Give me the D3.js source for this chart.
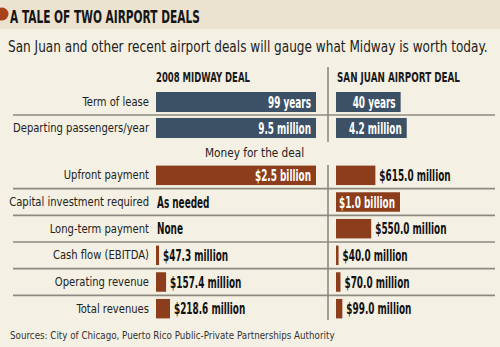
<!DOCTYPE html>
<html><head><meta charset="utf-8">
<script src="https://cdn.jsdelivr.net/npm/d3@7/dist/d3.min.js"></script>
<style>
html,body{margin:0;padding:0;background:#f4f0e3;}
svg{display:block;}
text{font-family:"DejaVu Sans Condensed","DejaVu Sans",sans-serif;}
</style></head><body>
<svg id="c" width="500" height="347"></svg>
<script>
// ---- data ----
const title = "A TALE OF TWO AIRPORT DEALS";
const subtitle = "San Juan and other recent airport deals will gauge what Midway is worth today.";
const dealNames = ["2008 MIDWAY DEAL", "SAN JUAN AIRPORT DEAL"];
const statCategories = ["Term of lease", "Departing passengers/year"];
const statMidway = [99, 9.5];
const statSanJuan = [40, 4.2];
const statMidwayLabels = ["99 years", "9.5 million"];
const statSanJuanLabels = ["40 years", "4.2 million"];
const moneyHeading = "Money for the deal";
const moneyCategories = ["Upfront payment", "Capital investment required", "Long-term payment", "Cash flow (EBITDA)", "Operating revenue", "Total revenues"];
const moneyMidway = [2500, null, null, 47.3, 157.4, 218.6]; // $ millions
const moneySanJuan = [615.0, 1000, 550.0, 40.0, 70.0, 99.0];
const moneyMidwayLabels = ["$2.5 billion", "As needed", "None", "$47.3 million", "$157.4 million", "$218.6 million"];
const moneySanJuanLabels = ["$615.0 million", "$1.0 billion", "$550.0 million", "$40.0 million", "$70.0 million", "$99.0 million"];
const source = "Sources: City of Chicago, Puerto Rico Public-Private Partnerships Authority";

// ---- layout ----
const W = 500, H = 347;
const svg = d3.select("#c");
const midX = 156, sjX = 336, barMax = 160, divX = 328;
const labelRight = 149, lineX0 = 13, lineX1 = 495;
const blue = "#3c5166", brown = "#8b3d1c", lineCol = "#8c8a80";

// place a text at (x,y) squeezed horizontally by factor f (or to width w); returns drawn width
function place(t, x, y, f, w) {
  const n = t.node().getComputedTextLength();
  if (w != null) f = w / n;
  t.attr("x", 0).attr("y", 0).attr("transform", `translate(${x},${y}) scale(${f},1)`);
  return n * f;
}

svg.append("rect").attr("width", W).attr("height", H).attr("fill", "#f4f0e3");
svg.append("rect").attr("width", W).attr("height", 29).attr("fill", "#ebe2cf");
svg.append("circle").attr("cx", 2).attr("cy", 14).attr("r", 6.5).attr("fill", "#a9411b");
place(svg.append("text").attr("font-size", 17).attr("font-weight", "bold").attr("fill", "#151515").text(title),
  10, 22.5, null, 190);
place(svg.append("text").attr("font-size", 15.5).attr("fill", "#222").text(subtitle), 8, 52, null, 480);

// headers
place(svg.append("text").attr("font-size", 14).attr("font-weight", "bold").attr("fill", "#1a1a1a").text(dealNames[0]),
  midX, 82, null, 94);
place(svg.append("text").attr("font-size", 14).attr("font-weight", "bold").attr("fill", "#1a1a1a").text(dealNames[1]),
  sjX + 1, 82, null, 123);

// dividers
svg.append("line").attr("x1", divX).attr("x2", divX).attr("y1", 67).attr("y2", 142)
  .attr("stroke", lineCol).attr("stroke-width", 1.6);
svg.append("line").attr("x1", divX).attr("x2", divX).attr("y1", 165).attr("y2", 320)
  .attr("stroke", lineCol).attr("stroke-width", 1.6);

function section(cats, mVals, sVals, mLabels, sLabels, y, scaleFor, color) {
  cats.slice(1).forEach(c => {
    const ly = y(c) - (y.step() - y.bandwidth()) / 2;
    svg.append("line").attr("x1", lineX0).attr("x2", lineX1).attr("y1", ly).attr("y2", ly)
      .attr("stroke", lineCol).attr("stroke-width", 1.6);
  });
  cats.forEach((c, i) => {
    const cy = y(c) + y.bandwidth() / 2;
    const lt = svg.append("text").attr("text-anchor", "end")
      .attr("font-size", 12.5).attr("fill", "#222").text(c);
    place(lt, labelRight, cy + 4, 0.89);
    const x = scaleFor(i);
    [[mVals[i], mLabels[i], midX], [sVals[i], sLabels[i], sjX]].forEach(([v, lab, x0]) => {
      const t = svg.append("text").attr("font-size", 15).attr("font-weight", "bold").text(lab);
      const f = 0.66;
      const tw = t.node().getComputedTextLength() * f;
      if (v == null) {
        t.attr("fill", "#111");
        place(t, x0 + 1, cy + 5.5, f);
        return;
      }
      const w = x(v);
      svg.insert("rect", "text").attr("x", x0).attr("y", y(c)).attr("width", w)
        .attr("height", y.bandwidth()).attr("fill", color);
      if (tw + 6 <= w) {
        t.attr("text-anchor", "end").attr("fill", "#fff");
        place(t, x0 + w - 5, cy + 5.5, f);
      } else {
        t.attr("fill", "#111");
        place(t, x0 + w + 4, cy + 5.5, f);
      }
    });
  });
}

// section 1: each row has its own scale
const y1 = d3.scaleBand().domain(statCategories).range([89, 141]).paddingInner(0.23).paddingOuter(0.115);
section(statCategories, statMidway, statSanJuan, statMidwayLabels, statSanJuanLabels, y1,
  i => d3.scaleLinear().domain([0, Math.max(statMidway[i], statSanJuan[i])]).range([0, barMax]), blue);

place(svg.append("text").attr("font-size", 13).attr("fill", "#222").text(moneyHeading), 205, 157, 0.9);

// section 2: shared money scale
const moneyMax = d3.max(moneyMidway.concat(moneySanJuan));
const xMoney = d3.scaleLinear().domain([0, moneyMax]).range([0, barMax]);
const y2 = d3.scaleBand().domain(moneyCategories).range([162, 322]).paddingInner(0.27).paddingOuter(0.135);
section(moneyCategories, moneyMidway, moneySanJuan, moneyMidwayLabels, moneySanJuanLabels, y2, () => xMoney, brown);

place(svg.append("text").attr("font-size", 10.5).attr("fill", "#333").text(source), 10, 339, null, 325);
</script></body></html>
